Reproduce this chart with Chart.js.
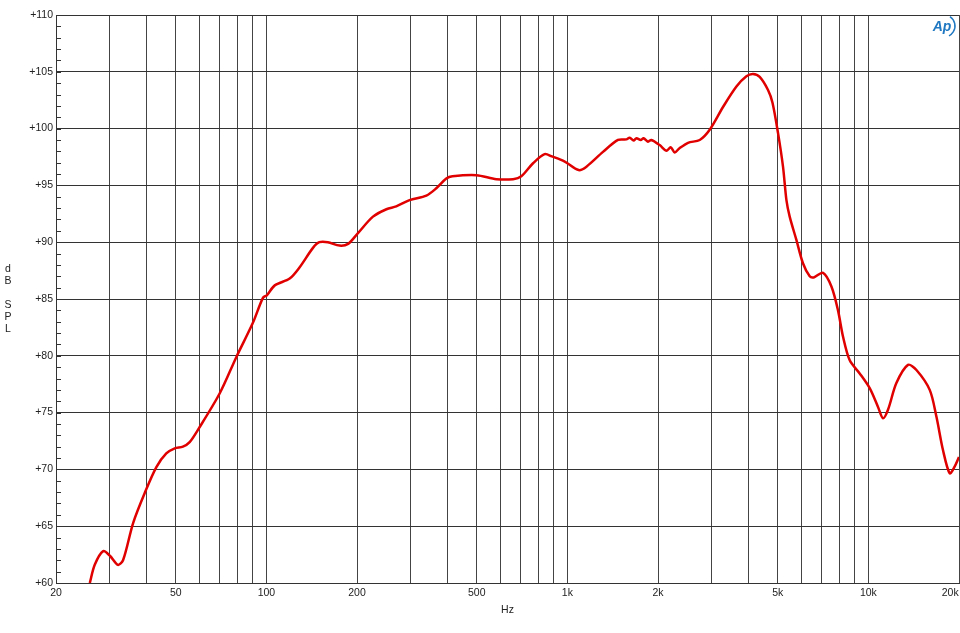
<!DOCTYPE html>
<html>
<head>
<meta charset="utf-8">
<script src="https://cdn.jsdelivr.net/npm/chart.js@4.4.0/dist/chart.umd.min.js"></script>
<style>
  body { margin: 0; background: #fff; }
  #wrap { width: 960px; height: 633px; position: relative; }
</style>
</head>
<body>
<div id="wrap"><canvas id="responseChart"></canvas></div>
<script>
// frequency response
const freqHz = [25.9, 26.9, 28.7, 30.2, 32.1, 33.4, 36.1, 39.4, 43.1, 46.5, 49.6, 52.8, 55.6, 59.3, 70, 79.5, 90.2, 97.4, 100.5, 106.6, 119.5, 129, 142.8, 150, 160, 175, 186.8, 201.5, 226, 250.5, 270, 299, 340, 367, 396, 415, 498.6, 581, 660, 703, 769, 840, 888, 980, 1090, 1157, 1313, 1473, 1571, 1610, 1660, 1696, 1753, 1790, 1853, 1900, 2026, 2132, 2204, 2273, 2353, 2516, 2752, 2970, 3289, 3644, 3933, 4136, 4354, 4640, 4800, 5010, 5204, 5342, 5477, 5765, 6062, 6383, 6582, 7069, 7537, 7926, 8234, 8670, 9354, 10100, 10764, 11184, 11618, 12388, 13540, 14442, 15986, 16824, 17692, 18626, 19300, 20000];
const splDb = [60.0, 61.6, 62.8, 62.4, 61.6, 62.0, 65.3, 67.9, 70.2, 71.4, 71.85, 72.0, 72.4, 73.5, 76.7, 79.9, 82.9, 85.1, 85.35, 86.2, 86.8, 87.8, 89.5, 90.0, 90.0, 89.7, 89.85, 90.8, 92.25, 92.9, 93.15, 93.7, 94.1, 94.75, 95.6, 95.8, 95.9, 95.55, 95.55, 95.8, 96.95, 97.75, 97.55, 97.1, 96.35, 96.65, 97.95, 99.0, 99.05, 99.2, 98.95, 99.15, 99.0, 99.15, 98.85, 99.0, 98.55, 98.05, 98.35, 97.9, 98.25, 98.75, 99.0, 99.9, 101.9, 103.7, 104.6, 104.8, 104.55, 103.4, 102.3, 99.6, 96.65, 93.7, 92.25, 90.2, 88.15, 87.0, 86.9, 87.3, 86.1, 84.0, 81.7, 79.6, 78.45, 77.15, 75.5, 74.5, 75.25, 77.6, 79.2, 78.75, 77.0, 74.65, 71.7, 69.65, 70.2, 71.1];

const gridFreqs = [20, 30, 40, 50, 60, 70, 80, 90, 100, 200, 300, 400, 500, 600, 700, 800, 900, 1000, 2000, 3000, 4000, 5000, 6000, 7000, 8000, 9000, 10000, 20000];
const freqLabels = {20: '20', 50: '50', 100: '100', 200: '200', 500: '500', 1000: '1k', 2000: '2k', 5000: '5k', 10000: '10k', 20000: '20k      '};
const yTitleLetters = ['d', 'B', '', 'S', 'P', 'L'];

const points = freqHz.map((f, i) => ({x: f, y: splDb[i]}));
const labelFont = {family: '"Liberation Sans", Arial, sans-serif', size: 10.5};

const extras = {
    id: 'extras',
    afterDraw(chart) {
        const c = chart.ctx;
        const y = chart.scales.y;
        const left = chart.chartArea.left;
        c.save();
        // short inner ticks every dB
        c.strokeStyle = '#333';
        c.lineWidth = 1;
        y.ticks.forEach(t => {
            const py = Math.round(y.getPixelForValue(t.value)) + 0.5;
            c.beginPath();
            c.moveTo(left, py);
            c.lineTo(left + 5, py);
            c.stroke();
        });
        // stacked "dB SPL"
        c.fillStyle = '#222';
        c.font = '10.5px "Liberation Sans", Arial, sans-serif';
        c.textAlign = 'center';
        c.textBaseline = 'middle';
        yTitleLetters.forEach((ch, i) => c.fillText(ch, 8, 269 + i * 12));
        // Ap logo
        c.fillStyle = '#1f78c1';
        c.strokeStyle = '#1f78c1';
        c.font = 'italic bold 14px "Liberation Sans", Arial, sans-serif';
        c.fillText('Ap', 942, 27);
        c.lineWidth = 1.5;
        c.beginPath();
        c.arc(944, 26, 11, -1.0, 1.1);
        c.stroke();
        c.restore();
    }
};

const ctx = document.getElementById('responseChart');
const responseChart = new Chart(ctx, {
    type: 'line',
    data: {
        datasets: [{
            data: points,
            borderColor: '#e00000',
            borderWidth: 2.5,
            pointRadius: 0,
            fill: false,
            tension: 0.3
        }]
    },
    options: {
        responsive: true,
        maintainAspectRatio: false,
        animation: false,
        layout: { padding: { top: 15, right: 1, left: 0, bottom: 0 } },
        plugins: { legend: { display: false }, tooltip: { enabled: false } },
        scales: {
            x: {
                type: 'logarithmic',
                min: 20,
                max: 20000,
                afterBuildTicks: s => { s.ticks = gridFreqs.map(v => ({value: v})); },
                afterFit: s => { s.height = 50; s.paddingLeft = 0; s.paddingRight = 0; },
                grid: { color: '#444', drawTicks: false },
                border: { color: '#333' },
                ticks: {
                    autoSkip: false,
                    maxRotation: 0,
                    padding: 4,
                    color: '#222',
                    font: labelFont,
                    callback: v => freqLabels[v] || ''
                },
                title: { display: true, text: 'Hz', color: '#222', font: labelFont, padding: { top: 0, bottom: 17 } }
            },
            y: {
                min: 60,
                max: 110,
                afterFit: s => { s.width = 56; s.paddingTop = 0; s.paddingBottom = 0; },
                grid: {
                    color: c => (c.tick && c.tick.value % 5 === 0) ? '#333' : 'rgba(0,0,0,0)',
                    drawTicks: false
                },
                border: { color: '#333' },
                ticks: {
                    stepSize: 1,
                    autoSkip: false,
                    padding: 3,
                    color: '#222',
                    font: labelFont,
                    callback: v => v % 5 === 0 ? '+' + v : ''
                }
            }
        }
    },
    plugins: [extras]
});
</script>
</body>
</html>
